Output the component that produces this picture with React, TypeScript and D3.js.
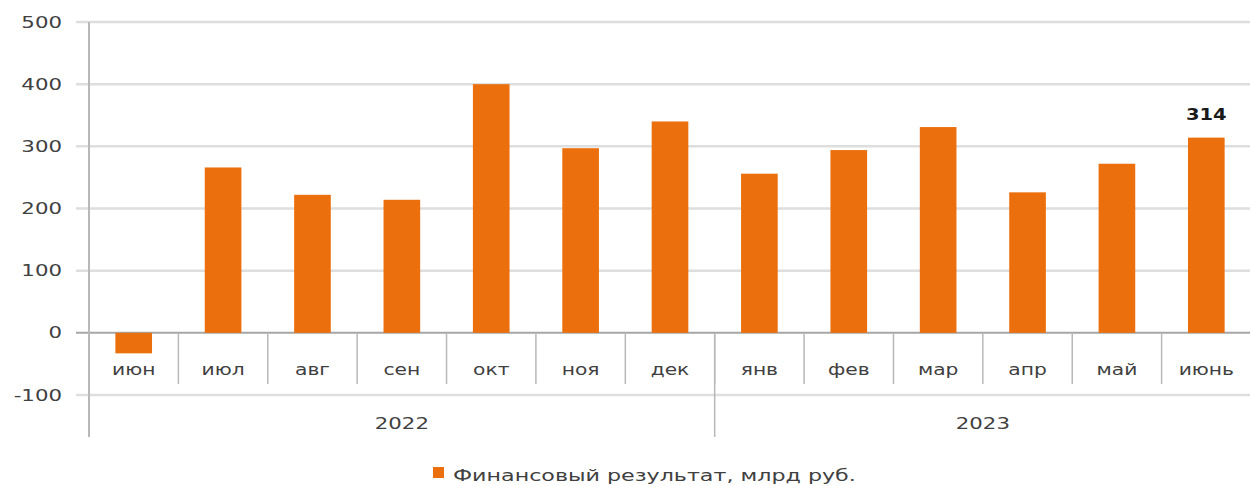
import React from "react";
import * as d3 from "d3";

const months = ["июн", "июл", "авг", "сен", "окт", "ноя", "дек", "янв", "фев", "мар", "апр", "май", "июнь"];
const values = [-33, 266, 222, 214, 400, 297, 340, 256, 294, 331, 226, 272, 314];
const years = ["2022", "2023"];
const yearSpans = [7, 6];
const yTicks = [-100, 0, 100, 200, 300, 400, 500];
const legendLabel = "Финансовый результат, млрд руб.";
const highlightIndex = 12;

const W = 1250;
const H = 486;
const FONT = "'DejaVu Sans', Verdana, sans-serif";
const TEXT = "#404040";
const ORANGE = "#EC6F0D";

function SText({ x, y, sx = 1.42, anchor = "middle", size = 15, weight = "normal", fill = TEXT, children }: any) {
  return (
    <text
      transform={`translate(${x},${y}) scale(${sx},1)`}
      textAnchor={anchor}
      fontFamily={FONT}
      fontSize={size}
      fontWeight={weight}
      fill={fill}
    >
      {children}
    </text>
  );
}

export default function App() {
  const left = 89;
  const right = 1251;
  const y = d3.scaleLinear().domain([-100, 500]).range([395, 22]);
  const x = d3.scaleBand().domain(months).range([left, right]).paddingInner(0).paddingOuter(0);
  const bw = x.bandwidth();
  const barW = bw * 0.41;
  const y0 = y(0);

  let acc = 0;
  const yearBlocks = years.map((yr, i) => {
    const start = left + acc * bw;
    acc += yearSpans[i];
    const end = left + acc * bw;
    return { yr, start, end };
  });

  return (
    <svg width={W} height={H} style={{ position: "absolute", left: 0, top: 0, background: "#fff" }}>
      {yTicks.map((t) => (
        <line key={t} x1={76} x2={W} y1={y(t)} y2={y(t)} stroke={t === 0 ? "#a6a6a6" : "#dedede"} strokeWidth={t === 0 ? 2 : 2.5} />
      ))}
      <line x1={left} x2={left} y1={y(500)} y2={437} stroke="#b8b8b8" strokeWidth={2} />
      {yTicks.map((t) => (
        <SText key={t} x={62} y={y(t) + 5.5} anchor="end">{t}</SText>
      ))}
      {months.map((m, i) => {
        const v = values[i];
        const yy = Math.min(y(v), y0);
        const h = Math.abs(y(v) - y0);
        return (
          <rect key={m} x={(x(m) as number) + (bw - barW) / 2} y={yy} width={barW} height={h} fill={ORANGE} />
        );
      })}
      {months.slice(1).map((m) => (
        <line key={m} x1={x(m) as number} x2={x(m) as number} y1={y0} y2={384} stroke="#b8b8b8" strokeWidth={1.5} />
      ))}
      <line x1={yearBlocks[1].start} x2={yearBlocks[1].start} y1={y0} y2={437} stroke="#b8b8b8" strokeWidth={1.5} />
      {months.map((m) => (
        <SText key={m} x={(x(m) as number) + bw / 2} y={375} sx={1.35}>{m}</SText>
      ))}
      {yearBlocks.map((b) => (
        <SText key={b.yr} x={(b.start + b.end) / 2} y={429}>{b.yr}</SText>
      ))}
      <SText
        x={(x(months[highlightIndex]) as number) + bw / 2}
        y={y(values[highlightIndex]) - 18}
        weight="bold"
        fill="#1a1a1a"
        sx={1.3}
      >
        {values[highlightIndex]}
      </SText>
      <rect x={433} y={467} width={11} height={11} fill={ORANGE} />
      <SText x={453} y={481} anchor="start" sx={1.48}>{legendLabel}</SText>
    </svg>
  );
}
